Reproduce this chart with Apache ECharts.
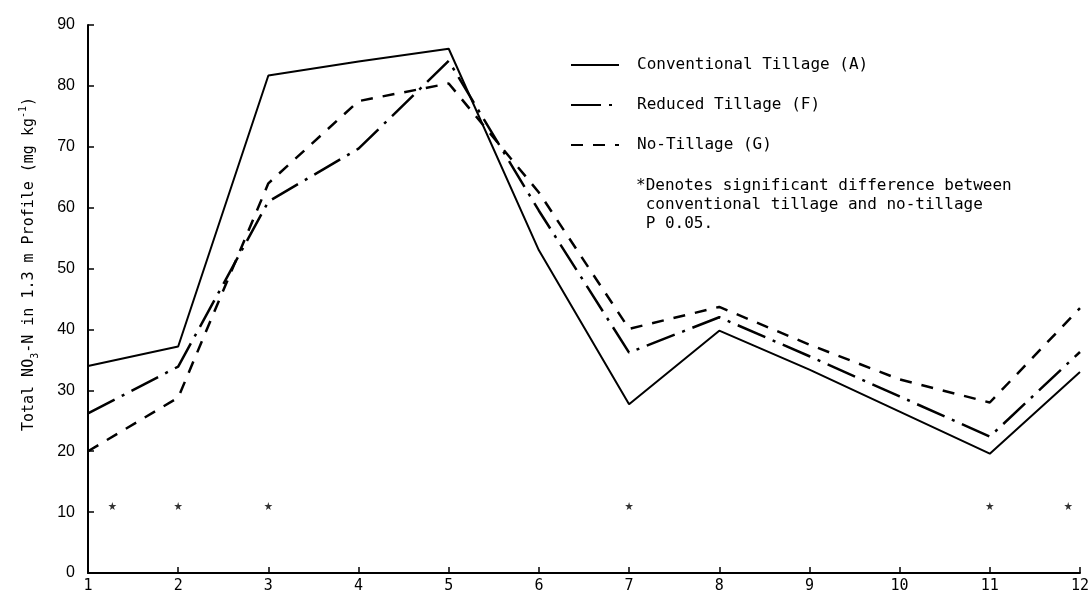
<!DOCTYPE html>
<html>
<head>
<meta charset="utf-8">
<script src="https://cdn.jsdelivr.net/npm/echarts@6/dist/echarts.min.js"></script>
<style>
  html, body { margin: 0; padding: 0; background: #fff; }
  #chart { width: 1092px; height: 594px; }
</style>
</head>
<body>
<div id="chart"></div>
<script>
// sampling dates (x axis) and profile NO3-N values
const months = [1, 2, 3, 4, 5, 6, 7, 8, 9, 10, 11, 12];
const conventional = [34, 37.2, 81.7, 84, 86.1, 53, 27.7, 39.8, 33.4, 26.5, 19.6, 33];
const reduced = [26.2, 33.9, 61, 69.7, 84.1, 59.5, 36.2, 42, 35.6, 29, 22.4, 36.3];
const noTill = [20, 28.8, 64, 77.5, 80.4, 62.5, 40.1, 43.7, 37.5, 31.8, 28, 43.5];
// dates with a significant difference (stars drawn near y = 11)
const starX = [1.27, 2, 3, 7, 11, 11.87];
const starY = 11;

const yTicks = [0, 10, 20, 30, 40, 50, 60, 70, 80, 90];

const mono = "'DejaVu Sans Mono', 'Liberation Mono', monospace";
const sans = "'Liberation Sans', Arial, sans-serif";
const starPath = "path://M50,0 L61,35 L98,35 L68,57 L79,91 L50,70 L21,91 L32,57 L2,35 L39,35 Z";

const pairs = (xs, ys) => xs.map((x, i) => [x, ys[i]]);

let chart = echarts.init(document.getElementById("chart"));

const option = {
  animation: false,
  backgroundColor: "#fff",
  grid: { left: 88, right: 7, top: 25, bottom: 19 },
  title: {
    text: "*Denotes significant difference between\n conventional tillage and no-tillage\n P 0.05.",
    left: 636,
    top: 176,
    padding: 0,
    textStyle: { fontFamily: mono, fontSize: 16, fontWeight: "normal", color: "#000", lineHeight: 19 },
  },
  legend: {
    data: ["Conventional Tillage (A)", "Reduced Tillage (F)", "No-Tillage (G)"],
    orient: "vertical",
    left: 570,
    top: 57,
    padding: 0,
    itemWidth: 48,
    itemHeight: 16,
    itemGap: 24,
    itemStyle: { opacity: 0 },
    textStyle: { fontFamily: mono, fontSize: 16, color: "#000", padding: [0, 0, 0, 13] },
  },
  xAxis: {
    type: "value",
    min: 1,
    max: 12,
    interval: 1,
    axisLine: { lineStyle: { color: "#000", width: 2 } },
    axisTick: { inside: true, length: 6, lineStyle: { color: "#000", width: 1.5 } },
    axisLabel: { margin: 6, color: "#000", fontFamily: mono, fontSize: 15, showMaxLabel: true },
    splitLine: { show: false },
  },
  yAxis: {
    type: "value",
    min: 0,
    max: 90,
    interval: 10,
    name: "Total NO{sub|3}-N in 1.3 m Profile (mg kg{sup|-1})",
    nameLocation: "middle",
    nameGap: 48,
    nameTextStyle: {
      fontFamily: mono,
      fontSize: 15,
      color: "#000",
      padding: [0, 0, 0, 70],
      rich: {
        sub: { fontFamily: mono, fontSize: 10, padding: [12, 0, 0, 0] },
        sup: { fontFamily: mono, fontSize: 10, padding: [0, 0, 12, 0] },
      },
    },
    axisLine: { show: true, lineStyle: { color: "#000", width: 2 } },
    axisTick: { show: true, inside: true, length: 6, lineStyle: { color: "#000", width: 1.5 } },
    axisLabel: {
      margin: 13,
      color: "#000",
      fontFamily: sans,
      fontSize: 16,
      formatter: (v) => (yTicks.includes(v) ? String(v) : ""),
    },
    splitLine: { show: false },
  },
  series: [
    {
      name: "Conventional Tillage (A)",
      type: "line",
      data: pairs(months, conventional),
      symbol: "none",
      lineStyle: { color: "#000", width: 2 },
      itemStyle: { color: "#000" },
    },
    {
      name: "Reduced Tillage (F)",
      type: "line",
      data: pairs(months, reduced),
      symbol: "none",
      lineStyle: { color: "#000", width: 2.5, type: [30, 8, 3, 8] },
      itemStyle: { color: "#000" },
    },
    {
      name: "No-Tillage (G)",
      type: "line",
      data: pairs(months, noTill),
      symbol: "none",
      lineStyle: { color: "#000", width: 2.5, type: [12, 10] },
      itemStyle: { color: "#000" },
    },
    {
      name: "significant",
      type: "scatter",
      data: starX.map((x) => [x, starY]),
      symbol: starPath,
      symbolSize: 8,
      itemStyle: { color: "#000" },
    },
  ],
};

chart.setOption(option, true);

window.addEventListener("resize", () => {
  if (chart) {
    chart.resize();
  }
});
</script>
</body>
</html>
